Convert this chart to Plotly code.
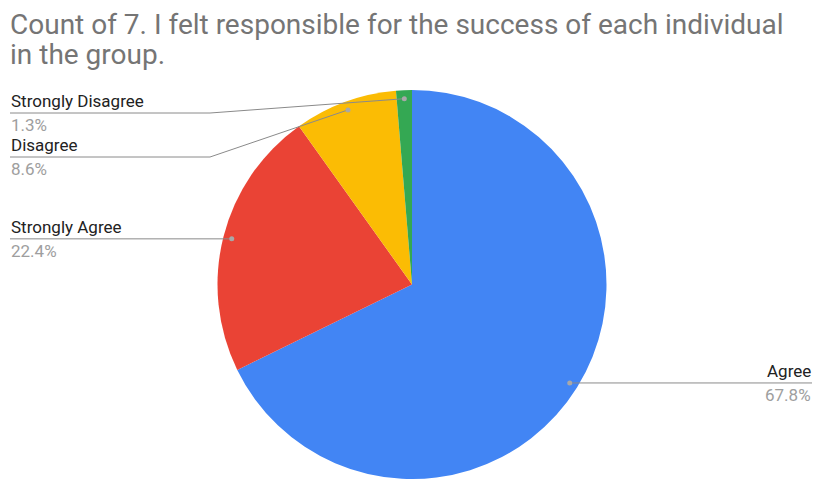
import math
import plotly.graph_objects as go

# ---- data ----
labels = ["Agree", "Strongly Agree", "Disagree", "Strongly Disagree"]
counts = [103, 34, 13, 2]
colors = ["#4285F4", "#EA4335", "#FBBC04", "#34A853"]
title_lines = ["Count of 7. I felt responsible for the success of each individual",
               "in the group."]

# ---- layout geometry (pixels) ----
W, H = 813, 479
R = 194.5
CX = 412.0
CY = H - R  # pie sits on the bottom edge
DOT_F = 0.956
ELBOW_X = 210
LEFT_X = 10
RIGHT_X = 812
MIN_LINE_Y = 113
LABEL_GAP = 44
LABEL_FONT = 17
TITLE_FONT = 28

fig = go.Figure()
fig.add_trace(go.Pie(
    labels=labels, values=counts, sort=False, direction="clockwise", rotation=0,
    marker=dict(colors=colors, line=dict(width=0)),
    textinfo="none", hoverinfo="label+percent",
    domain=dict(x=[(CX - R) / W, (CX + R) / W], y=[0, 2 * R / H]),
))

def px(x):
    return x / W

def py(y):
    return 1 - y / H

total = sum(counts)
cum = 0
items = []
for lab, v in zip(labels, counts):
    mid = (cum + v / 2) / total
    cum += v
    th = 2 * math.pi * mid
    dx = CX + DOT_F * R * math.sin(th)
    dy = CY - DOT_F * R * math.cos(th)
    items.append(dict(label=lab, pct=f"{v / total * 100:.1f}%", dx=dx, dy=dy,
                      right=math.sin(th) > 0))

shapes = []
annotations = []
for side in (True, False):
    group = sorted([it for it in items if it["right"] == side], key=lambda it: it["dy"])
    prev = -1e9
    for it in group:
        ly = max(it["dy"], MIN_LINE_Y, prev + LABEL_GAP)
        prev = ly
        edge = RIGHT_X if side else LEFT_X
        if abs(ly - it["dy"]) < 3:
            ly = it["dy"]
            path = f"M {px(edge)} {py(ly)} L {px(it['dx'])} {py(it['dy'])}"
        else:
            ex = W - ELBOW_X if side else ELBOW_X
            path = (f"M {px(edge)} {py(ly)} L {px(ex)} {py(ly)} "
                    f"L {px(it['dx'])} {py(it['dy'])}")
        shapes.append(dict(type="path", path=path, xref="paper", yref="paper",
                           line=dict(color="#8a8a8a", width=1), layer="above"))
        shapes.append(dict(type="circle", xref="paper", yref="paper",
                           x0=px(it["dx"] - 2.5), x1=px(it["dx"] + 2.5),
                           y0=py(it["dy"] + 2.5), y1=py(it["dy"] - 2.5),
                           fillcolor="#a8a8a8", line=dict(width=0), layer="above"))
        anchor = "right" if side else "left"
        annotations.append(dict(text=it["label"], x=px(edge), y=py(ly - 1),
                                xref="paper", yref="paper", xanchor=anchor, yanchor="bottom",
                                showarrow=False, borderpad=0,
                                font=dict(family="Roboto", size=LABEL_FONT, color="#222222")))
        annotations.append(dict(text=it["pct"], x=px(edge), y=py(ly + 1),
                                xref="paper", yref="paper", xanchor=anchor, yanchor="top",
                                showarrow=False, borderpad=0,
                                font=dict(family="Roboto", size=LABEL_FONT, color="#9e9e9e")))

for i, line in enumerate(title_lines):
    annotations.append(dict(text=line, x=px(9), y=py(33 + 30 * i), xref="paper", yref="paper",
                            xanchor="left", yanchor="middle", yshift=TITLE_FONT * 0.32,
                            align="left", showarrow=False, borderpad=0,
                            font=dict(family="Roboto", size=TITLE_FONT, color="#757575")))

fig.update_layout(width=W, height=H, margin=dict(l=0, r=0, t=0, b=0),
                  paper_bgcolor="white", plot_bgcolor="white", showlegend=False,
                  shapes=shapes, annotations=annotations)

fig.write_html("out.html", config={"displayModeBar": False},
               post_script="document.body.style.margin='0';")
